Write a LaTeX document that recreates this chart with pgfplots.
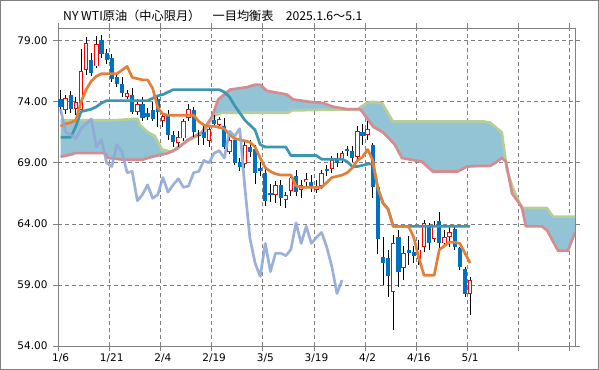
\documentclass[border=0pt]{standalone}
\usepackage{fontspec}
\setmainfont{DejaVu Sans}
\newfontfamily\jp{Noto Sans CJK JP}
\usepackage{pgfplots}
\pgfplotsset{compat=1.18}
\usepgfplotslibrary{fillbetween}
\usepackage{pgfplotstable}

\definecolor{cblue}{RGB}{0,112,192}
\definecolor{cred}{RGB}{255,0,0}
\definecolor{tenkan}{RGB}{226,128,56}
\definecolor{kijun}{RGB}{60,150,175}
\definecolor{chikou}{RGB}{145,168,214}
\definecolor{spanA}{RGB}{183,207,150}
\definecolor{spanB}{RGB}{213,140,145}
\definecolor{kumo}{RGB}{146,196,214}
\definecolor{framegray}{RGB}{128,128,128}

% x = trading day index + 0.5 ; o h l c
\pgfplotstableread{
x o h l c
0.5 74.2 75.0 73.1 73.6
1.5 73.3 74.6 73.0 74.3
2.5 74.6 74.9 73.1 73.4
3.5 73.4 74.4 72.9 74.0
4.5 73.3 78.3 73.2 76.5
5.5 76.6 79.3 76.2 78.8
6.5 77.4 78.0 76.1 76.4
7.5 76.9 79.4 76.8 78.7
8.5 79.1 79.5 77.6 77.9
9.5 78.0 78.3 77.1 77.4
10.5 77.6 77.9 75.6 75.9
11.5 76.0 76.3 75.2 75.5
12.5 75.5 76.0 74.4 74.7
13.5 74.4 75.0 74.2 74.7
14.5 74.6 75.1 73.0 73.2
15.5 73.2 74.2 72.9 73.8
16.5 73.8 74.4 72.4 72.7
17.5 73.1 73.5 72.5 72.8
18.5 73.3 74.0 72.4 72.6
19.5 74.2 74.6 71.9 73.2
20.5 72.4 73.0 71.9 72.8
21.5 72.9 73.3 70.9 71.3
22.5 71.3 71.6 70.3 70.7
23.5 70.6 71.6 70.3 71.1
24.5 71.0 72.6 70.8 72.4
25.5 72.7 73.8 72.4 73.4
26.5 73.3 73.6 71.1 71.5
27.5 71.2 71.7 70.5 71.3
28.5 71.5 72.0 70.5 71.0
29.5 70.8 72.0 70.3 71.8
30.5 72.5 72.9 71.9 72.2
31.5 72.1 72.8 71.8 72.6
32.5 72.0 72.7 70.1 70.3
33.5 69.9 71.1 69.7 70.9
34.5 70.9 71.2 68.8 69.0
35.5 69.1 69.4 68.3 68.7
36.5 68.9 70.8 68.6 70.5
37.5 70.3 70.9 69.5 69.9
38.5 70.1 70.5 67.3 68.2
39.5 68.6 69.1 67.9 68.3
40.5 68.2 68.5 65.5 65.9
41.5 66.5 67.3 65.8 66.4
42.5 66.4 67.5 65.7 67.2
43.5 67.2 67.6 65.5 66.1
44.5 66.0 66.6 65.3 66.4
45.5 66.7 68.0 66.3 67.8
46.5 67.9 68.4 66.3 66.6
47.5 66.8 67.6 66.1 67.2
48.5 67.4 68.2 67.0 67.7
49.5 67.4 68.0 66.6 67.0
50.5 66.8 67.6 66.5 67.1
51.5 67.1 68.4 66.9 68.2
52.5 68.5 68.8 67.9 68.3
53.5 68.5 69.6 68.2 69.2
54.5 69.2 69.8 68.7 69.0
55.5 69.2 70.0 69.0 69.8
56.5 70.1 70.4 69.6 70.0
57.5 70.0 70.4 69.1 69.4
58.5 69.5 72.0 69.1 71.6
59.5 71.5 72.2 70.5 71.2
60.5 71.3 72.4 70.9 71.8
61.5 70.5 70.6 66.1 67.0
62.5 67.0 67.1 61.5 62.8
63.5 61.3 62.9 59.0 60.8
64.5 61.2 61.9 58.0 59.7
65.5 58.4 63.1 55.3 62.4
66.5 62.9 63.5 58.8 60.1
67.5 60.4 62.2 59.4 61.6
68.5 61.9 63.0 60.6 61.6
69.5 61.7 62.2 60.8 61.4
70.5 61.1 62.7 60.6 61.9
71.5 62.1 64.3 61.7 64.1
72.5 63.8 64.1 61.9 62.4
73.5 62.8 64.2 62.5 63.8
74.5 64.2 65.0 61.9 62.4
75.5 62.4 63.5 62.1 62.9
76.5 62.9 63.75 62.1 63.3
77.5 63.6 63.9 61.9 62.1
78.5 62.0 62.1 60.2 60.5
79.5 60.3 60.5 58.0 58.3
80.5 58.3 59.65 56.5 59.4
}\candles

\pgfplotstableread{
x y
0.5 72.0
1.5 72.2
2.5 72.3
3.5 72.5
4.5 74.0
5.5 75.0
6.5 75.7
7.5 76.1
8.5 76.3
11.5 76.3
12.5 76.6
13.5 76.9
14.5 76.0
15.5 75.9
16.5 75.8
17.5 75.8
18.5 75.1
19.5 73.5
20.5 73.0
21.5 72.9
26.5 72.9
27.5 72.4
28.5 72.1
29.5 72.0
30.5 72.0
31.5 71.9
32.5 71.8
33.5 71.3
34.5 71.0
35.5 70.9
36.5 70.8
37.5 70.7
38.5 70.3
39.5 69.4
40.5 68.6
41.5 68.3
42.5 68.1
43.5 68.0
45.5 68.0
46.5 67.1
47.5 67.0
51.5 67.0
52.5 67.4
53.5 67.8
54.5 67.9
55.5 68.0
56.5 68.2
57.5 68.6
58.5 69.2
59.5 69.5
60.5 70.1
61.5 69.2
62.5 66.9
63.5 65.7
64.5 65.2
65.5 63.8
68.5 63.8
69.5 62.9
70.5 61.2
71.5 59.8
73.5 59.8
74.5 61.9
75.5 62.2
76.5 62.5
77.5 62.5
78.5 62.4
79.5 61.6
80.5 60.8
}\tenkantbl

\pgfplotstableread{
x y
0.5 71.1
2.5 71.1
3.5 72.0
4.5 73.2
5.5 73.3
6.5 73.4
7.5 73.6
8.5 73.9
9.5 74.1
17.5 74.1
18.5 74.3
19.5 74.5
20.5 74.6
21.5 74.8
22.5 75.0
31.5 75.0
32.5 74.8
33.5 74.4
34.5 73.7
35.5 73.1
36.5 72.5
37.5 72.1
38.5 71.7
39.5 70.5
40.5 70.3
44.5 70.3
45.5 69.6
50.5 69.6
51.5 69.3
55.5 69.3
56.5 69.1
57.5 68.7
58.5 68.7
59.5 68.8
60.5 68.9
61.5 68.9
62.5 66.9
63.5 65.7
64.5 65.2
65.5 63.8
80.5 63.8
}\kijuntbl

\pgfplotstableread{
x y
0.5 72.5
11.5 72.5
14.6 72.6
15.6 72.6
16.0 72.1
17.6 71.5
18.9 71.2
20.3 70.1
22.3 69.9
23.4 70.3
26.2 71.0
28.7 71.5
29.3 72.1
30.7 72.9
32.0 73.1
44.9 73.1
45.7 73.3
58.6 73.4
60.3 73.9
61.5 74.0
63.3 73.9
65.4 72.4
83.0 72.4
84.4 72.3
86.7 71.5
87.7 68.4
88.9 66.9
90.6 65.3
95.5 65.3
96.7 64.6
101.0 64.6
}\spanAtbl

\pgfplotstableread{
x y
0.5 69.5
2.7 69.7
3.3 69.8
9.2 69.8
9.8 69.4
13.1 69.25
16.4 69.25
18.4 69.5
21.5 69.8
23.4 70.2
25.4 70.9
28.1 71.5
30.1 72.8
31.3 74.2
33.6 75.0
36.9 75.2
38.5 75.4
39.5 75.4
40.8 74.9
43.4 74.7
44.7 74.6
45.9 74.2
49.2 74.0
51.8 73.9
53.7 73.6
56.5 73.4
59.0 73.4
59.6 73.1
61.6 71.95
63.5 71.5
65.8 70.5
67.2 69.4
71.1 69.1
73.2 68.3
78.1 68.3
79.9 68.7
82.4 68.75
84.4 68.75
85.4 69.0
86.7 69.4
87.5 69.1
88.7 66.5
90.6 65.4
91.4 63.8
94.5 63.8
95.5 63.5
97.7 61.8
99.6 61.8
101.0 63.3
}\spanBtbl

\begin{document}
\begin{tikzpicture}
\begin{axis}[
  at={(0,0)}, anchor=south west,
  scale only axis, width=517bp, height=318bp,
  xmin=0, xmax=101, ymin=54, ymax=80.05,
  axis line style={framegray, line width=0.8bp},
  xtick={0,10,...,100},
  xticklabels={1/6,1/21,2/4,2/19,3/5,3/19,4/2,4/16,5/1,{},{}},
  ytick={54,59,64,69,74,79},
  /pgf/number format/assume math mode=true,
  yticklabel style={/pgf/number format/fixed, /pgf/number format/fixed zerofill, /pgf/number format/precision=2, xshift=-2.5bp},
  grid=major,
  major grid style={framegray, line width=0.8bp, dash pattern=on 4bp off 3bp},
  tick style={framegray, line width=0.8bp},
  tick align=outside, major tick length=4.5bp,
  ticklabel style={font=\fontsize{10.5bp}{12bp}\selectfont, text=black},
  xticklabel style={xshift=2.56bp},
  line join=round,
]
% cloud
\addplot[name path=A, draw=none, forget plot] table {\spanAtbl};
\addplot[name path=B, draw=none, forget plot] table {\spanBtbl};
\addplot[kumo, forget plot] fill between[of=A and B];
\addplot[spanA, line width=2.7bp] table {\spanAtbl};
\addplot[spanB, line width=2.7bp] table {\spanBtbl};
% wicks
\addplot[draw=none, mark=none, forget plot,
  error bars/.cd, y dir=both, y explicit, error mark=none,
  error bar style={draw=black, line width=0.9bp, solid}]
  table[x=x, y expr={(\thisrow{h}+\thisrow{l})/2}, y error expr={(\thisrow{h}-\thisrow{l})/2}] {\candles};
% down bodies
\addplot[draw=none, mark=none, forget plot,
  error bars/.cd, y dir=both, y explicit, error mark=none,
  error bar style={draw=cblue, line width=4.2bp, line cap=butt, solid}]
  table[x=x, y expr={(\thisrow{o}+\thisrow{c})/2}, y error expr={max(0,(\thisrow{o}-\thisrow{c})/2)}] {\candles};
% up bodies (hollow)
\addplot[draw=none, mark=none, forget plot,
  error bars/.cd, y dir=both, y explicit, error mark=none,
  error bar style={draw=cred, line width=4.4bp, line cap=butt, solid}]
  table[x=x, y expr={(\thisrow{o}+\thisrow{c})/2}, y error expr={max(0,(\thisrow{c}-\thisrow{o})/2)}] {\candles};
\addplot[draw=none, mark=none, forget plot,
  error bars/.cd, y dir=both, y explicit, error mark=none,
  error bar style={draw=white, line width=2.6bp, line cap=butt, solid}]
  table[x=x, y expr={(\thisrow{o}+\thisrow{c})/2}, y error expr={max(0,(\thisrow{c}-\thisrow{o})/2-0.075)}] {\candles};
% lines
\addplot[kijun, line width=2.7bp] table {\kijuntbl};
\addplot[tenkan, line width=2.7bp] table {\tenkantbl};
\addplot[chikou, line width=2.7bp, opacity=0.9, restrict x to domain=0:101]
  table[x expr={\thisrow{x}-25}, y=c] {\candles};
\end{axis}
\node[anchor=west, font=\jp\fontsize{12.2bp}{14bp}\selectfont, inner sep=0pt] at (5bp,330.5bp)
  {NY WTI原油（中心限月）　一目均衡表　2025.1.6～5.1};
\draw[framegray, line width=1bp] (-57.5bp,-23.5bp) rectangle (540.5bp,345.5bp);
\end{tikzpicture}
\end{document}
